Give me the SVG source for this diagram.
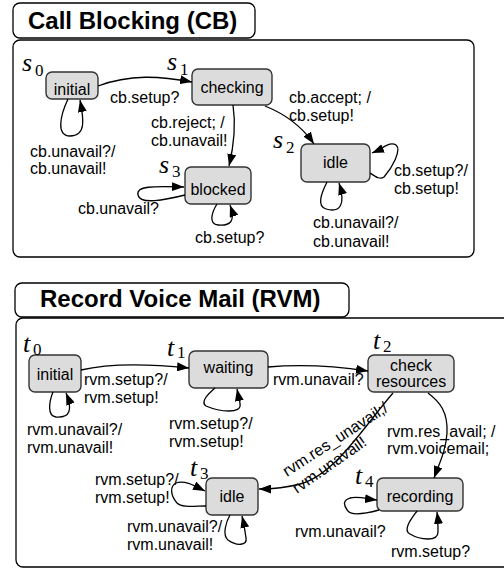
<svg xmlns="http://www.w3.org/2000/svg" width="504" height="569" viewBox="0 0 504 569">
<defs>
<marker id="ah" markerWidth="13" markerHeight="9" refX="12" refY="4.5" orient="auto" markerUnits="userSpaceOnUse">
<path d="M0,0 L12,4.5 L0,9 z" fill="#000"/>
</marker>
<style>
.frame{fill:#fff;stroke:#000;stroke-width:1.3}
.title{font-family:"Liberation Sans",Arial,sans-serif;font-weight:bold;font-size:24px;fill:#000}
.node rect{fill:#dcdcdc;stroke:#333;stroke-width:1.4}
.nt{font-family:"Liberation Sans",Arial,sans-serif;font-size:16px;fill:#000;text-anchor:middle}
.lb{font-family:"Liberation Sans",Arial,sans-serif;font-size:16px;fill:#000}
.m{font-family:"Liberation Serif","Times New Roman",serif;font-style:italic;font-size:26px;fill:#000}
.sub{font-family:"Liberation Serif","Times New Roman",serif;font-size:17px;fill:#000}
.e{fill:none;stroke:#000;stroke-width:1.3;marker-end:url(#ah)}
</style>
</defs>
<rect width="504" height="569" fill="#fff"/>

<!-- Call Blocking frame -->
<g id="cb-frame">
<rect class="frame" x="13" y="40" width="461" height="217" rx="7"/>
<rect class="frame" x="13" y="3" width="242" height="35" rx="7"/>
<text class="title" x="28" y="29">Call Blocking (CB)</text>
</g>

<g id="cb-initial" class="node">
<rect x="46" y="72" width="52" height="27" rx="6"/>
<text class="nt" x="72" y="95">initial</text>
<text class="m" x="22" y="71">s</text><text class="sub" x="35" y="76">0</text>
</g>
<g id="cb-checking" class="node">
<rect x="192" y="69" width="80" height="36" rx="6"/>
<text class="nt" x="232" y="93">checking</text>
<text class="m" x="167" y="70">s</text><text class="sub" x="180" y="75">1</text>
</g>
<g id="cb-blocked" class="node">
<rect x="185" y="167" width="66" height="37" rx="6"/>
<text class="nt" x="218" y="195">blocked</text>
<text class="m" x="159" y="173">s</text><text class="sub" x="172" y="177">3</text>
</g>
<g id="cb-idle" class="node">
<rect x="301" y="144" width="69" height="38" rx="6"/>
<text class="nt" x="335.5" y="168">idle</text>
<text class="m" x="273" y="148">s</text><text class="sub" x="286" y="153">2</text>
</g>

<g id="cb-edges">
<path class="e" d="M98,86 C130,74 160,76 192,82"/>
<path class="e" d="M68,99 C60,116 56,136 70,136 C86,136 84,120 80,100"/>
<path class="e" d="M233,105 C236,125 234,145 229,166"/>
<path class="e" d="M265,106 C285,114 303,128 314,144"/>
<path class="e" d="M185,195 C165,200 140,205 138,195 C136,186 152,186 184,187"/>
<path class="e" d="M217,204 C212,212 208,224 218,225 C230,226 236,222 230,205"/>
<path class="e" d="M370,173 C376,177 380,180 384,177 C392,168 402,150 396,145 C390,141 384,148 372,153"/>
<path class="e" d="M327,182 C322,192 316,206 326,209 C340,213 346,205 339,183"/>
<text class="lb" x="110" y="103">cb.setup?</text>
<text class="lb" x="30" y="157">cb.unavail?/</text>
<text class="lb" x="30" y="174">cb.unavail!</text>
<text class="lb" x="151" y="128">cb.reject; /</text>
<text class="lb" x="151" y="146">cb.unavail!</text>
<text class="lb" x="289" y="103">cb.accept; /</text>
<text class="lb" x="289" y="121">cb.setup!</text>
<text class="lb" x="78" y="214">cb.unavail?</text>
<text class="lb" x="195" y="243">cb.setup?</text>
<text class="lb" x="394" y="176">cb.setup?/</text>
<text class="lb" x="394" y="194">cb.setup!</text>
<text class="lb" x="313" y="228">cb.unavail?/</text>
<text class="lb" x="313" y="247">cb.unavail!</text>
</g>

<!-- Record Voice Mail frame -->
<g id="rvm-frame">
<rect class="frame" x="16" y="318" width="500" height="249" rx="7"/>
<rect class="frame" x="15" y="283" width="334" height="34" rx="7"/>
<text class="title" x="40" y="307">Record Voice Mail (RVM)</text>
</g>

<g id="rvm-initial" class="node">
<rect x="29" y="355" width="52" height="37" rx="6"/>
<text class="nt" x="55" y="380">initial</text>
<text class="m" x="23" y="352">t</text><text class="sub" x="33" y="355">0</text>
</g>
<g id="rvm-waiting" class="node">
<rect x="189" y="351" width="79" height="37" rx="6"/>
<text class="nt" x="228.5" y="373">waiting</text>
<text class="m" x="167" y="356">t</text><text class="sub" x="177" y="358">1</text>
</g>
<g id="rvm-check" class="node">
<rect x="368" y="355" width="86" height="37" rx="6"/>
<text class="nt" x="411" y="371">check</text>
<text class="nt" x="411" y="387">resources</text>
<text class="m" x="373" y="349">t</text><text class="sub" x="383" y="352">2</text>
</g>
<g id="rvm-idle" class="node">
<rect x="206" y="478" width="52" height="37" rx="6"/>
<text class="nt" x="232" y="502">idle</text>
<text class="m" x="190" y="476">t</text><text class="sub" x="200" y="479">3</text>
</g>
<g id="rvm-recording" class="node">
<rect x="377" y="478" width="86" height="33" rx="6"/>
<text class="nt" x="420" y="502">recording</text>
<text class="m" x="355" y="484">t</text><text class="sub" x="365" y="487">4</text>
</g>

<g id="rvm-edges">
<path class="e" d="M81,370 C110,363 150,364 189,368"/>
<path class="e" d="M53,392 C49,402 47,416 56,417 C70,418 73,410 66,393"/>
<path class="e" d="M268,367 C300,364 335,366 368,371"/>
<path class="e" d="M215,388 C208,394 200,402 206,406 C220,412 242,414 240,404 C240,398 238,394 237,389"/>
<path class="e" d="M393,393 C365,425 335,475 300,484 C285,488 272,489 259,489"/>
<path class="e" d="M428,393 C440,402 448,412 447,433 C446,450 440,462 434,478"/>
<path class="e" d="M206,506 C195,506 182,508 177,503 C170,495 170,486 176,483 C185,480 195,486 205,491"/>
<path class="e" d="M230,515 C226,522 222,535 228,540 C236,546 248,546 246,538 C245,530 244,524 242,516"/>
<path class="e" d="M379,510 C368,513 352,516 348,511 C343,505 343,500 350,498 C358,496 368,499 377,500"/>
<path class="e" d="M417,511 C412,518 402,530 410,534 C420,540 438,542 438,532 C438,526 438,520 437,512"/>
<text class="lb" x="84" y="385">rvm.setup?/</text>
<text class="lb" x="84" y="403">rvm.setup!</text>
<text class="lb" x="27" y="435">rvm.unavail?/</text>
<text class="lb" x="27" y="453">rvm.unavail!</text>
<text class="lb" x="273" y="385">rvm.unavail?</text>
<text class="lb" x="169" y="429">rvm.setup?/</text>
<text class="lb" x="169" y="447">rvm.setup!</text>
<text class="lb" x="95" y="485">rvm.setup?/</text>
<text class="lb" x="95" y="503">rvm.setup!</text>
<text class="lb" x="127" y="532">rvm.unavail?/</text>
<text class="lb" x="127" y="550">rvm.unavail!</text>
<text class="lb" x="387" y="437">rvm.res_avail; /</text>
<text class="lb" x="387" y="454">rvm.voicemail;</text>
<text class="lb" x="295" y="537">rvm.unavail?</text>
<text class="lb" x="391" y="557">rvm.setup?</text>
<text class="lb" transform="translate(287,477) rotate(-33)">rvm.res_unavail;/</text>
<text class="lb" transform="translate(297,494) rotate(-35)">rvm.unavail!</text>
</g>
</svg>
